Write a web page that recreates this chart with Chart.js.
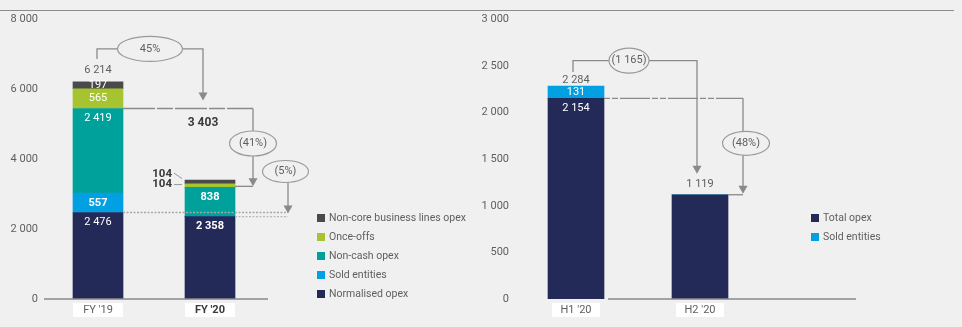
<!DOCTYPE html>
<html><head><meta charset="utf-8">
<script src="https://cdn.jsdelivr.net/npm/chart.js@4.4.1/dist/chart.umd.min.js"></script>
<style>
html,body{margin:0;padding:0;background:#f0f0f0;width:962px;height:327px;overflow:hidden;}
#topline{position:absolute;left:0;top:9.5px;width:954px;height:0;border-top:1.5px solid #8c8c8c;}
#c1{position:absolute;left:0;top:0;}
#c2{position:absolute;left:480px;top:0;}
</style></head><body>
<div id="topline"></div>
<canvas id="c1" width="480" height="327"></canvas>
<canvas id="c2" width="482" height="327"></canvas>
<script>
// ---------- data ----------
const fyCategories = ["FY '19", "FY '20"];
const normalisedOpex = [2476, 2358];
const soldEntitiesFY = [557, 0];
const nonCashOpex = [2419, 838];
const onceOffs = [565, 104];
const nonCoreOpex = [197, 104];
const fyTotalLabels = ['6 214', '3 403'];
const fyTicks = ['0', '2 000', '4 000', '6 000', '8 000'];
const fyChangeLabels = ['45%', '(41%)', '(5%)'];

const hCategories = ["H1 '20", "H2 '20"];
const totalOpexH = [2154, 1119];
const soldEntitiesH = [131, 0];
const hTotalLabels = ['2 284', '1 119'];
const hTicks = ['0', '500', '1 000', '1 500', '2 000', '2 500', '3 000'];
const hChangeLabels = ['(1 165)', '(48%)'];

// ---------- style ----------
const FONT = 'Roboto, "Open Sans", sans-serif';
const C_NAVY = '#232a58', C_BLUE = '#00a0e2', C_TEAL = '#00a19b', C_GREEN = '#a6c42f', C_DARK = '#4a4a4a';
const TXT = '#5f5f5f', BOLD_TXT = '#3a3a3a', LINE = '#8a8a8a';

Chart.defaults.font.family = FONT;
Chart.defaults.font.size = 11;
Chart.defaults.color = TXT;
Chart.defaults.animation = false;

function fmt(v) { return String(v).replace(/\B(?=(\d{3})+(?!\d))/g, ' '); }

function txt(ctx, s, x, y, opt = {}) {
  ctx.save();
  ctx.font = (opt.bold ? 'bold ' : '') + (opt.size || 11) + 'px ' + FONT;
  ctx.fillStyle = opt.color || TXT;
  ctx.textAlign = opt.align || 'center';
  ctx.textBaseline = 'middle';
  ctx.fillText(s, x, y);
  ctx.restore();
}
function path(ctx, pts, dash, color, w) {
  ctx.save();
  ctx.strokeStyle = color || LINE;
  ctx.lineWidth = w || 1.3;
  ctx.setLineDash(dash || []);
  ctx.beginPath();
  pts.forEach((p, i) => i ? ctx.lineTo(p[0], p[1]) : ctx.moveTo(p[0], p[1]));
  ctx.stroke();
  ctx.restore();
}
function arrow(ctx, x, tip) {
  ctx.save();
  ctx.fillStyle = LINE;
  ctx.beginPath();
  ctx.moveTo(x, tip); ctx.lineTo(x - 4.5, tip - 8); ctx.lineTo(x + 4.5, tip - 8); ctx.closePath();
  ctx.fill();
  ctx.restore();
}
function ellipse(ctx, cx, cy, rx, ry, label) {
  ctx.save();
  ctx.strokeStyle = '#9a9a9a';
  ctx.lineWidth = 1.2;
  ctx.beginPath();
  ctx.ellipse(cx, cy, rx, ry, 0, 0, Math.PI * 2);
  ctx.fillStyle = '#f0f0f0';
  ctx.fill();
  ctx.stroke();
  ctx.restore();
  txt(ctx, label, cx, cy);
}
function legend(ctx, items, x, y0, gap) {
  items.forEach((it, i) => {
    const y = y0 + i * gap;
    ctx.fillStyle = it.color;
    ctx.fillRect(x, y - 4, 8, 8);
    txt(ctx, it.label, x + 12, y, { align: 'left', size: 10.5 });
  });
}
function segLabels(chart, boldFn, skipFn) {
  const ctx = chart.ctx;
  chart.data.datasets.forEach((ds, di) => {
    const meta = chart.getDatasetMeta(di);
    meta.data.forEach((bar, i) => {
      const v = ds.data[i];
      if (!v || (skipFn && skipFn(di, i))) return;
      const top = Math.min(bar.y, bar.base), bottom = Math.max(bar.y, bar.base);
      const h = bottom - top;
      if (h < 5) return;
      const yy = h > 25 ? top + 10 : (top + bottom) / 2;
      txt(ctx, fmt(v), bar.x, yy, { color: '#ffffff', bold: boldFn(di, i) });
    });
  });
}
function catBoxes(chart, w) {
  const ctx = chart.ctx, x = chart.scales.x;
  ctx.save();
  ctx.fillStyle = '#ffffff';
  chart.data.labels.forEach((l, i) => {
    const cx = x.getPixelForValue(i);
    ctx.fillRect(cx - w / 2, chart.chartArea.bottom + 4, w, 14);
  });
  ctx.restore();
}

// ---------- left chart ----------
const leftPlugin = {
  id: 'leftAnno',
  beforeDraw(chart) { catBoxes(chart, 50); },
  afterDatasetsDraw(chart) {
    const ctx = chart.ctx, x = chart.scales.x, y = chart.scales.y, a = chart.chartArea;
    path(ctx, [[a.left + 2, a.bottom], [a.right + 2, a.bottom]], null, LINE, 1.5);
    segLabels(chart, (di, i) => i === 1 || (di === 1 && i === 0));
    const c0 = x.getPixelForValue(0), c1 = x.getPixelForValue(1);
    const tot0 = normalisedOpex[0] + soldEntitiesFY[0] + nonCashOpex[0] + onceOffs[0] + nonCoreOpex[0];
    const tot1 = normalisedOpex[1] + soldEntitiesFY[1] + nonCashOpex[1] + onceOffs[1] + nonCoreOpex[1];
    const yT0 = y.getPixelForValue(tot0), yT1 = y.getPixelForValue(tot1);
    txt(ctx, fyTotalLabels[0], c0, yT0 - 11.5);
    // 104 labels
    txt(ctx, fmt(nonCoreOpex[1]), c1 - 38, yT1 - 6, { align: 'right', bold: true, color: BOLD_TXT, size: 11.5 });
    txt(ctx, fmt(onceOffs[1]), c1 - 38, yT1 + 4, { align: 'right', bold: true, color: BOLD_TXT, size: 11.5 });
    path(ctx, [[c1 - 36, yT1 - 7], [c1 - 28, yT1 - 1.5]], null, '#999', 1);
    path(ctx, [[c1 - 36, yT1 + 4.5], [c1 - 28, yT1 + 4.5]], null, '#999', 1);
    // level lines
    const l1 = y.getPixelForValue(normalisedOpex[0] + soldEntitiesFY[0] + nonCashOpex[0]);
    const l2 = y.getPixelForValue(normalisedOpex[1] + soldEntitiesFY[1] + nonCashOpex[1]);
    const n0 = y.getPixelForValue(normalisedOpex[0]), n1 = y.getPixelForValue(normalisedOpex[1]);
    const xa = c1 - 7, xb = c1 + 43, xc = c1 + 78;
    txt(ctx, fyTotalLabels[1], xa, l1 + 14, { bold: true, color: BOLD_TXT, size: 12 });
    // 45%
    const e1y = yT0 - 33, e1x = c0 + 52;
    path(ctx, [[c0 - 1, yT0 - 23], [c0 - 1, e1y], [e1x - 32, e1y]]);
    path(ctx, [[e1x + 32, e1y], [xa, e1y], [xa, l1 - 14]]);
    arrow(ctx, xa, l1 - 8);
    ellipse(ctx, e1x, e1y, 32.5, 12.5, fyChangeLabels[0]);
    // (41%)
    path(ctx, [[c0 + 25, l1], [xb, l1]], [32, 2, 16, 2]);
    path(ctx, [[xb, l1], [xb, l2 - 6]]);
    path(ctx, [[c1 + 25, l2 - 1], [xb, l2 - 1]]);
    arrow(ctx, xb, l2 - 1);
    ellipse(ctx, xb, l1 + 35, 23.5, 12.5, fyChangeLabels[1]);
    // (5%)
    path(ctx, [[c0 + 25, n0], [xc, n0]], [2, 1.5], '#a8a8a8', 1.3);
    path(ctx, [[c1 + 25, n1], [xc, n1]], [2, 1.5], '#b8b8b8', 1.3);
    path(ctx, [[xc, n0 - 30], [xc, n0 - 5]]);
    arrow(ctx, xc, n0 + 1);
    ellipse(ctx, xc - 2.5, n0 - 41, 23, 11, fyChangeLabels[2]);
    // legend
    const ds = chart.data.datasets.slice().reverse();
    legend(ctx, ds.map(d => ({ label: d.label, color: d.backgroundColor })), 317, 218, 19);
  }
};

new Chart(document.getElementById('c1'), {
  type: 'bar',
  data: {
    labels: fyCategories,
    datasets: [
      { label: 'Normalised opex', data: normalisedOpex, backgroundColor: C_NAVY },
      { label: 'Sold entities', data: soldEntitiesFY, backgroundColor: C_BLUE },
      { label: 'Non-cash opex', data: nonCashOpex, backgroundColor: C_TEAL },
      { label: 'Once-offs', data: onceOffs, backgroundColor: C_GREEN },
      { label: 'Non-core business lines opex', data: nonCoreOpex, backgroundColor: C_DARK }
    ]
  },
  options: {
    responsive: false,
    devicePixelRatio: 1,
    layout: { padding: { top: 19.5, right: 214, left: 0, bottom: 0 } },
    plugins: { legend: { display: false }, tooltip: { enabled: false } },
    datasets: { bar: { barThickness: 50, borderWidth: 0 } },
    scales: {
      x: {
        stacked: true,
        grid: { display: false, drawTicks: false },
        border: { display: false },
        ticks: {
          padding: 5,
          color: (c) => c.index === 1 ? BOLD_TXT : TXT,
          font: (c) => ({ size: 11, weight: c.index === 1 ? 'bold' : 'normal' })
        },
        afterFit: (s) => { s.height = 28; }
      },
      y: {
        stacked: true, min: 0, max: 8000,
        grid: { display: false, drawTicks: false },
        border: { display: false },
        ticks: { stepSize: 2000, padding: 4, callback: (v, i) => fyTicks[i] },
        afterFit: (s) => { s.width = 42; }
      }
    }
  },
  plugins: [leftPlugin]
});

// ---------- right chart ----------
const rightPlugin = {
  id: 'rightAnno',
  beforeDraw(chart) { catBoxes(chart, 48); },
  afterDatasetsDraw(chart) {
    const ctx = chart.ctx, x = chart.scales.x, y = chart.scales.y, a = chart.chartArea;
    const c0 = x.getPixelForValue(0), c1 = x.getPixelForValue(1);
    path(ctx, [[c0 + 32, a.bottom], [a.right + 94, a.bottom]], null, LINE, 1.5);
    segLabels(chart, () => false, (di, i) => i === 1);
    const yT0 = y.getPixelForValue(totalOpexH[0] + soldEntitiesH[0]);
    const yT1 = y.getPixelForValue(totalOpexH[1] + soldEntitiesH[1]);
    const l0 = y.getPixelForValue(totalOpexH[0]);
    txt(ctx, hTotalLabels[0], c0, yT0 - 6);
    txt(ctx, hTotalLabels[1], c1, yT1 - 10);
    // (1 165)
    const ey = yT0 - 25.5, ex = c0 + 53, xa = c1 - 3, xb = c1 + 43;
    path(ctx, [[c0 - 3, yT0 - 14], [c0 - 3, ey], [ex - 20, ey]]);
    path(ctx, [[ex + 20, ey], [xa, ey], [xa, yT1 - 27]]);
    arrow(ctx, xa, yT1 - 21);
    ellipse(ctx, ex, ey, 20, 12.5, hChangeLabels[0]);
    // (48%)
    path(ctx, [[c0 + 28, l0], [xb, l0]], [6, 2, 6, 2, 30, 2]);
    path(ctx, [[xb, l0], [xb, yT1 - 6]]);
    path(ctx, [[c1 + 28, yT1], [xb, yT1]]);
    arrow(ctx, xb, yT1 - 1);
    ellipse(ctx, xb + 3, l0 + 45, 23.5, 12, hChangeLabels[1]);
    // legend
    const ds = chart.data.datasets;
    legend(ctx, ds.map(d => ({ label: d.label, color: d.backgroundColor })), 331, 218, 19);
  }
};

new Chart(document.getElementById('c2'), {
  type: 'bar',
  data: {
    labels: hCategories,
    datasets: [
      { label: 'Total opex', data: totalOpexH, backgroundColor: C_NAVY },
      { label: 'Sold entities', data: soldEntitiesH, backgroundColor: C_BLUE }
    ]
  },
  options: {
    responsive: false,
    devicePixelRatio: 1,
    layout: { padding: { top: 19.5, right: 200, left: 0, bottom: 0 } },
    plugins: { legend: { display: false }, tooltip: { enabled: false } },
    datasets: { bar: { barThickness: 56, borderWidth: 0 } },
    scales: {
      x: {
        stacked: true,
        grid: { display: false, drawTicks: false },
        border: { display: false },
        ticks: { padding: 5 },
        afterFit: (s) => { s.height = 28; }
      },
      y: {
        stacked: true, min: 0, max: 3000,
        grid: { display: false, drawTicks: false },
        border: { display: false },
        ticks: { stepSize: 500, padding: 5, callback: (v, i) => hTicks[i] },
        afterFit: (s) => { s.width = 34; }
      }
    }
  },
  plugins: [rightPlugin]
});
</script>
</body></html>
